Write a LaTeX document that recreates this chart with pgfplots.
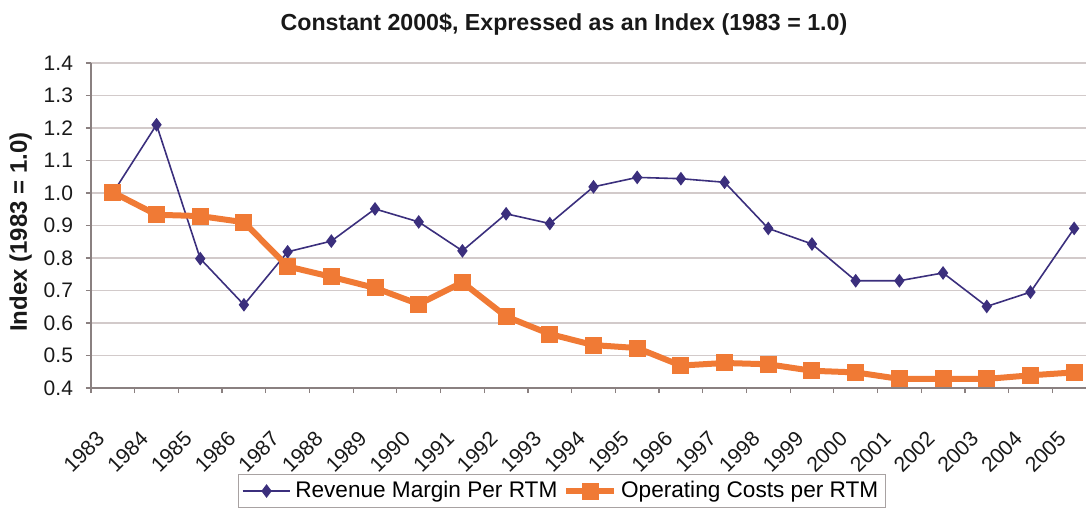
\documentclass[border=0pt]{standalone}
\usepackage{pgfplots}
\pgfplotsset{compat=1.18}
\usetikzlibrary{calc}
\usepackage{fontspec}
\setmainfont{Liberation Sans}
\definecolor{rev}{HTML}{3B2F7D}
\definecolor{opc}{HTML}{F07A35}
\definecolor{gridc}{HTML}{D2CACA}
\definecolor{axc}{HTML}{8A8080}
\begin{document}
\begin{tikzpicture}
\begin{axis}[name=ax, scale only axis, width=502.5pt, height=162.5pt,
  xmin=-0.5, xmax=22.5, ymin=0.4, ymax=1.4,
  axis x line=bottom, axis y line=left,
  axis line style={-, axc, line width=1pt},
  ytick={0.4,0.5,0.6,0.7,0.8,0.9,1.0,1.1,1.2,1.3,1.4},
  yticklabel style={/pgf/number format/fixed, /pgf/number format/precision=1, /pgf/number format/fixed zerofill, xshift=-3pt, font=\fontsize{10.5}{12}\selectfont},
  /pgf/number format/assume math mode=true,
  ymajorgrids, major grid style={gridc, line width=0.8pt},
  tick style={axc, line width=0.6pt}, tick align=outside, major tick length=2.5pt,
  xtick={-0.5,0.5,1.5,2.5,3.5,4.5,5.5,6.5,7.5,8.5,9.5,10.5,11.5,12.5,13.5,14.5,15.5,16.5,17.5,18.5,19.5,20.5,21.5,22.5},
  xticklabels={},
  extra x ticks={0,1,2,3,4,5,6,7,8,9,10,11,12,13,14,15,16,17,18,19,20,21,22},
  extra x tick labels={1983,1984,1985,1986,1987,1988,1989,1990,1991,1992,1993,1994,1995,1996,1997,1998,1999,2000,2001,2002,2003,2004,2005},
  extra x tick style={major tick length=0pt, xticklabel style={rotate=45, anchor=east, xshift=-17.5pt, yshift=-12.4pt, font=\fontsize{10.6}{12}\selectfont}},
  ticklabel style={text=black!90},
  title={Constant 2000\$, Expressed as an Index (1983 = 1.0)},
  title style={at={(axis description cs:0.4706,1)}, anchor=center, yshift=13.5pt, font=\bfseries\fontsize{11.6}{13}\selectfont, text=black!90},
  ylabel={Index (1983 = 1.0)},
  every axis y label/.style={at={(axis description cs:-0.0700,0.48)}, rotate=90, anchor=center, font=\bfseries\fontsize{12}{14}\selectfont, text=black!90},
  legend style={at={(axis description cs:0.4687,-0.317)}, anchor=center, legend columns=2, draw=gridc!80!black, line width=0.6pt, font=\fontsize{11.3}{13}\selectfont, inner sep=1.5pt, /tikz/every even column/.append style={column sep=1pt}},
  legend image code/.code={\draw[mark repeat=2,mark phase=2] plot coordinates {(0cm,0cm) (0.42cm,0cm) (0.84cm,0cm)};},
]
\addplot[rev, line width=0.8pt, mark=diamond*, mark size=2.8pt, mark options={solid}] coordinates {
(0,1.00) (1,1.21) (2,0.798) (3,0.656) (4,0.819) (5,0.852) (6,0.951) (7,0.911) (8,0.822) (9,0.936) (10,0.906)
(11,1.019) (12,1.048) (13,1.044) (14,1.033) (15,0.891) (16,0.843) (17,0.730) (18,0.730) (19,0.754) (20,0.651) (21,0.695) (22,0.891)};
\addlegendentry{Revenue Margin Per RTM}
\addplot[opc, line width=3pt, mark=square*, mark size=4pt, mark options={solid, line width=0pt}] coordinates {
(0,1.002) (1,0.933) (2,0.929) (3,0.910) (4,0.774) (5,0.742) (6,0.708) (7,0.658) (8,0.725) (9,0.620) (10,0.566)
(11,0.532) (12,0.523) (13,0.469) (14,0.477) (15,0.473) (16,0.453) (17,0.448) (18,0.428) (19,0.428) (20,0.428) (21,0.439) (22,0.448)};
\addlegendentry{Operating Costs per RTM}
\end{axis}
\pgfresetboundingbox
\useasboundingbox ($(ax.south west)+(-45.5pt,-60pt)$) rectangle ($(ax.south west)+(497.5pt,194pt)$);
\end{tikzpicture}
\end{document}
